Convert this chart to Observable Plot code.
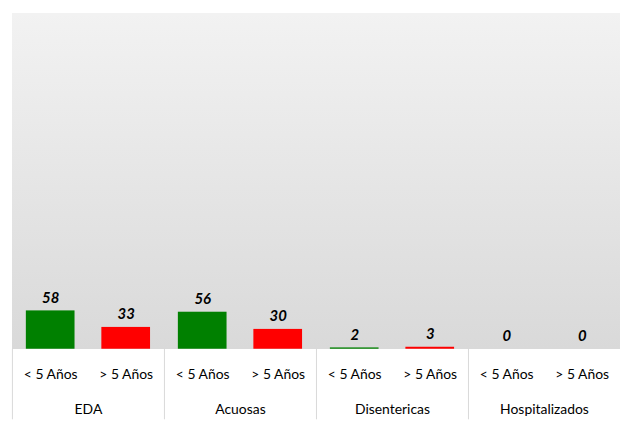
<!DOCTYPE html>
<html>
<head>
<meta charset="utf-8">
<script src="https://cdn.jsdelivr.net/npm/d3@7"></script>
<script src="https://cdn.jsdelivr.net/npm/@observablehq/plot@0.6"></script>
<style>
  html, body { margin: 0; padding: 0; background: #fff; overflow: hidden; }
  #chart { width: 620px; height: 422px; overflow: hidden; }
</style>
</head>
<body>
<div id="chart"></div>
<script>
const groups = ["EDA", "Acuosas", "Disentericas", "Hospitalizados"];
const ageGroups = ["< 5 Años", "> 5 Años"];
const under5 = [58, 56, 2, 0];
const over5 = [33, 30, 3, 0];
const colors = ["#008000", "#ff0000"];

const data = groups.flatMap((g, i) => [
  {group: g, age: ageGroups[0], value: under5[i]},
  {group: g, age: ageGroups[1], value: over5[i]}
]);

const font = "Lato, 'Open Sans', sans-serif";

const chart = Plot.plot({
  width: 624,
  height: 422,
  marginTop: 13,
  marginLeft: 12,
  marginRight: 0,
  marginBottom: 71,
  style: {fontFamily: font, fontSize: "14px", color: "#000", background: "transparent", overflow: "visible"},
  fx: {domain: groups, padding: 0, label: null, axis: "bottom", tickSize: 0, tickPadding: 55},
  x: {domain: ageGroups, paddingInner: 0.36, paddingOuter: 0.18, label: null, axis: "bottom", tickSize: 0, tickPadding: 20},
  y: {domain: [0, 508], axis: null},
  color: {domain: ageGroups, range: colors},
  marks: [
    Plot.frame({fill: "url(#bgGrad)", stroke: "none", shapeRendering: "crispEdges"}),
    Plot.ruleX(groups, {fx: d => d, x: () => ageGroups[0], dx: -38.5, stroke: "#d9d9d9", strokeWidth: 1, insetTop: 338, insetBottom: -71}),
    Plot.barY(data, {fx: "group", x: "age", y: "value", fill: "age"}),
    Plot.text(data, {fx: "group", x: "age", y: "value", text: d => String(d.value), dy: -13,
      fontWeight: "bold", fontStyle: "italic", fontSize: 15, fill: "#000"})
  ]
});

const defs = d3.select(chart).insert("defs", ":first-child");
const grad = defs.append("linearGradient").attr("id", "bgGrad")
  .attr("x1", 0).attr("y1", 0).attr("x2", 0).attr("y2", 1);
grad.append("stop").attr("offset", "0%").attr("stop-color", "#f2f2f2");
grad.append("stop").attr("offset", "100%").attr("stop-color", "#d9d9d9");

document.getElementById("chart").append(chart);
</script>
</body>
</html>
